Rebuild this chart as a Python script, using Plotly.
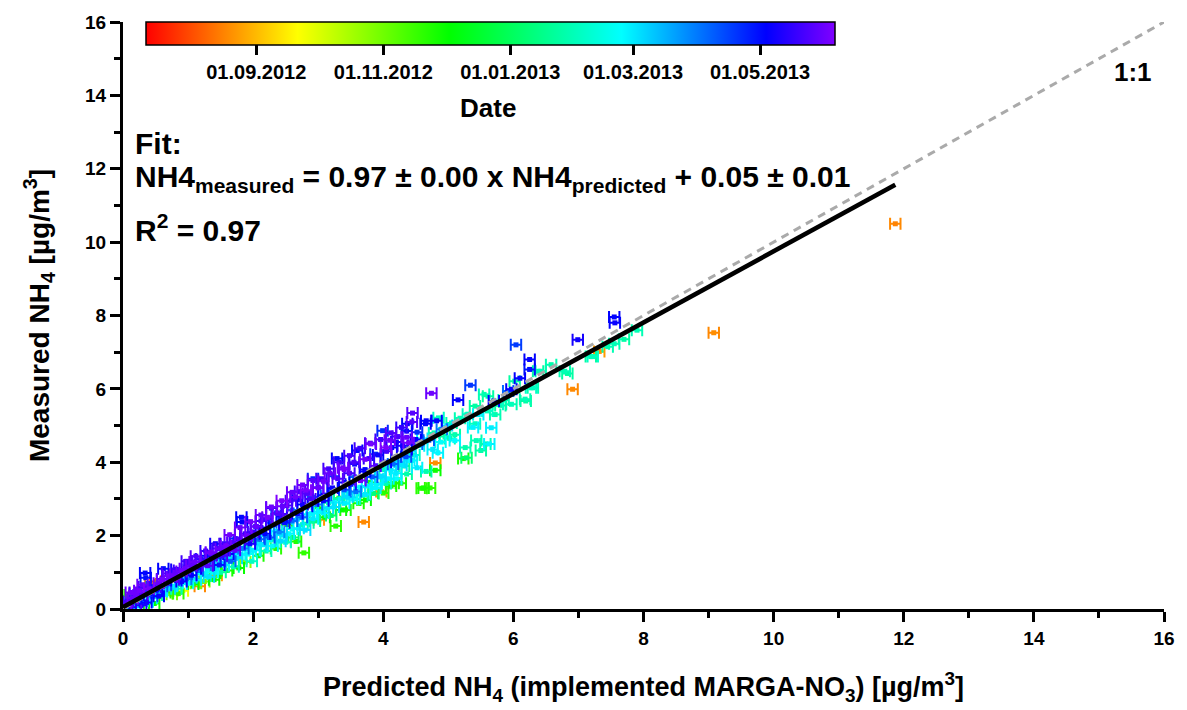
import numpy as np
import pandas as pd
import plotly.graph_objects as go
from plotly.colors import sample_colorscale

# ---------------- data ----------------
# segment 1: x 0 - 0.5
pred_s1 = [0.00, 0.00, 0.01, 0.02, 0.03, 0.05, 0.08, 0.10, 0.12, 0.15, 0.18, 0.20, 0.22, 0.25, 0.28,
           0.30, 0.32, 0.34, 0.35, 0.38, 0.40, 0.42, 0.45, 0.48, 0.50, 0.50]
meas_s1 = [0.05, 0.15, 0.25, 0.00, 0.32, 0.10, 0.20, 0.38, 0.05, 0.30, 0.45, -0.05, 0.25, 0.50, 0.10,
           0.40, 0.60, 0.98, 0.85, 0.20, 0.55, 0.68, 0.35, 0.15, 0.75, 0.60]
date_s1 = ["2013-02-26", "2013-02-24", "2013-03-02", "2013-02-08", "2012-11-26", "2013-06-01", "2013-05-22",
           "2012-11-22", "2013-05-04", "2013-05-30", "2013-05-18", "2013-05-24", "2013-04-06", "2013-06-02",
           "2013-05-07", "2013-05-26", "2013-05-20", "2013-05-03", "2013-05-01", "2013-03-01", "2013-06-04",
           "2012-08-17", "2013-04-12", "2012-12-03", "2012-07-16", "2013-05-17"]

# segment 2: x 0.5 - 1.0
pred_s2 = [0.55, 0.55, 0.58, 0.60, 0.62, 0.65, 0.66, 0.70, 0.72, 0.75, 0.78, 0.80, 0.82, 0.85, 0.86,
           0.90, 0.92, 0.95, 0.97, 1.00]
meas_s2 = [0.70, 0.35, 0.50, 0.82, 1.10, 0.45, 0.65, 0.90, 0.55, 0.40, 0.80, 0.95, 0.62, 0.42, 1.05,
           0.75, 0.50, 1.10, 0.82, 0.70]
date_s2 = ["2013-05-31", "2013-05-05", "2013-02-28", "2013-05-21", "2013-05-02", "2012-11-24", "2013-04-10",
           "2013-06-03", "2013-03-03", "2012-10-28", "2013-05-19", "2013-05-29", "2013-01-30", "2012-11-20",
           "2013-05-23", "2013-05-06", "2012-09-24", "2013-06-01", "2013-04-02", "2013-02-22"]

# segment 3: x 1.0 - 1.5
pred_s3 = [1.02, 1.05, 1.08, 1.10, 1.12, 1.15, 1.18, 1.20, 1.22, 1.25, 1.28, 1.30, 1.32, 1.35, 1.38,
           1.40, 1.42, 1.44, 1.46, 1.48, 1.50]
meas_s3 = [1.20, 0.92, 0.68, 1.28, 0.80, 1.05, 0.62, 1.35, 0.95, 0.75, 1.45, 1.18, 0.88, 1.55, 1.00,
           0.80, 1.38, 0.92, 1.65, 1.20, 1.00]
date_s3 = ["2013-05-20", "2013-05-04", "2012-11-28", "2013-05-31", "2013-02-25", "2013-04-05", "2012-08-19",
           "2013-05-16", "2013-02-02", "2012-10-30", "2013-05-03", "2013-05-25", "2013-03-02", "2013-06-03",
           "2013-02-20", "2012-11-30", "2013-04-15", "2012-08-23", "2013-05-22", "2013-04-29", "2013-01-27"]

# segment 4: x 1.5 - 2.0
pred_s4 = [1.52, 1.55, 1.58, 1.60, 1.62, 1.65, 1.68, 1.70, 1.72, 1.75, 1.78, 1.80, 1.82, 1.83, 1.85,
           1.88, 1.90, 1.92, 1.95, 1.98, 2.00]
meas_s4 = [1.45, 1.20, 1.72, 1.05, 1.50, 1.30, 1.82, 1.15, 1.60, 1.38, 1.12, 1.90, 2.50, 2.37, 1.65,
           1.28, 2.00, 1.50, 1.78, 1.30, 2.10]
date_s4 = ["2013-05-18", "2013-02-27", "2013-06-02", "2012-11-25", "2013-05-05", "2013-04-08", "2013-05-24",
           "2013-01-31", "2013-05-28", "2013-03-04", "2012-12-01", "2013-05-21", "2013-05-02", "2013-05-04",
           "2013-03-30", "2012-10-25", "2013-06-01", "2013-02-23", "2013-05-07", "2013-02-04", "2013-05-19"]

# segment 5: x 2.0 - 2.5
pred_s5 = [2.02, 2.05, 2.08, 2.10, 2.12, 2.15, 2.18, 2.20, 2.22, 2.25, 2.28, 2.30, 2.32, 2.35, 2.38,
           2.40, 2.42, 2.45, 2.48, 2.50, 2.50]
meas_s5 = [1.60, 2.25, 1.45, 1.90, 2.40, 1.75, 2.05, 1.58, 2.50, 1.95, 2.75, 1.72, 2.30, 1.65, 2.60,
           2.10, 1.85, 2.80, 2.35, 1.82, 2.55]
date_s5 = ["2013-02-26", "2013-05-30", "2012-11-27", "2013-04-06", "2013-05-23", "2013-03-01", "2013-05-03",
           "2013-01-29", "2013-06-03", "2013-04-11", "2013-05-17", "2013-02-21", "2013-05-06", "2012-11-21",
           "2013-05-25", "2013-03-28", "2013-03-05", "2013-05-29", "2013-05-01", "2013-02-06", "2013-05-20"]

# segment 6: x 2.5 - 3.0
pred_s6 = [2.55, 2.58, 2.60, 2.62, 2.65, 2.66, 2.68, 2.70, 2.72, 2.75, 2.78, 2.80, 2.81, 2.83, 2.85,
           2.88, 2.90, 2.92, 2.95, 2.98, 3.00]
meas_s6 = [2.05, 2.95, 2.40, 1.95, 3.05, 1.84, 2.60, 2.20, 3.20, 2.50, 1.53, 2.15, 3.24, 2.80, 2.35,
           3.00, 2.60, 3.50, 2.40, 2.85, 3.30]
date_s6 = ["2013-02-24", "2013-05-21", "2013-04-04", "2013-01-08", "2013-06-01", "2012-11-23", "2013-05-05",
           "2013-02-28", "2013-05-18", "2013-04-09", "2012-11-19", "2013-03-03", "2013-06-04", "2013-05-02",
           "2013-01-26", "2013-05-22", "2013-02-22", "2013-05-26", "2013-01-12", "2013-04-01", "2013-05-31"]

# segment 7: x 3.0 - 3.5
pred_s7 = [3.01, 3.02, 3.05, 3.08, 3.10, 3.12, 3.15, 3.18, 3.20, 3.22, 3.25, 3.27, 3.29, 3.30, 3.32,
           3.35, 3.38, 3.40, 3.42, 3.45, 3.48, 3.50]
meas_s7 = [2.43, 2.65, 3.55, 2.95, 2.50, 3.10, 2.75, 3.70, 2.55, 3.30, 2.90, 2.26, 4.10, 3.55, 3.00,
           2.70, 3.85, 3.25, 2.70, 3.05, 3.70, 3.40]
date_s7 = ["2012-08-21", "2013-02-25", "2013-05-19", "2013-05-04", "2012-11-29", "2013-04-07", "2013-03-02",
           "2013-05-30", "2013-01-06", "2013-05-06", "2013-02-27", "2012-11-22", "2013-05-03", "2013-05-24",
           "2013-02-01", "2012-12-02", "2013-06-02", "2013-04-13", "2012-11-26", "2013-03-04", "2013-05-20",
           "2013-05-01"]

# segment 8: x 3.5 - 4.0
pred_s8 = [3.52, 3.55, 3.58, 3.60, 3.62, 3.65, 3.68, 3.70, 3.72, 3.73, 3.75, 3.78, 3.81, 3.83, 3.85,
           3.88, 3.90, 3.92, 3.95, 3.97, 3.99, 4.00]
meas_s8 = [3.00, 4.00, 3.20, 4.32, 2.88, 3.50, 3.10, 2.37, 3.80, 2.97, 3.35, 4.10, 4.50, 3.60, 3.15,
           3.90, 3.40, 4.20, 3.60, 3.20, 4.86, 3.16]
date_s8 = ["2013-02-23", "2013-05-22", "2013-04-03", "2013-05-05", "2012-11-24", "2013-06-01", "2013-01-28",
           "2012-08-18", "2013-05-02", "2012-11-30", "2013-03-01", "2013-05-17", "2013-06-03", "2013-04-10",
           "2013-01-10", "2013-05-25", "2013-02-26", "2013-05-06", "2013-03-03", "2012-08-22", "2013-04-22",
           "2012-11-21"]

# segment 9: x 4.0 - 4.5
pred_s9 = [4.02, 4.05, 4.08, 4.10, 4.12, 4.13, 4.15, 4.16, 4.20, 4.22, 4.25, 4.27, 4.30, 4.32, 4.35,
           4.36, 4.37, 4.39, 4.40, 4.42, 4.45, 4.48, 4.50]
meas_s9 = [3.80, 4.30, 3.55, 4.60, 3.35, 4.40, 3.95, 3.43, 3.70, 4.70, 4.00, 3.43, 4.45, 3.90, 4.15,
           4.85, 5.05, 4.53, 4.05, 4.30, 5.34, 4.20, 4.62]
date_s9 = ["2013-01-31", "2013-05-21", "2013-02-25", "2013-05-31", "2012-11-27", "2013-05-03", "2013-04-05",
           "2012-11-23", "2013-02-28", "2013-05-23", "2013-03-02", "2012-11-25", "2013-05-07", "2013-01-25",
           "2013-04-14", "2013-05-01", "2013-05-05", "2013-06-02", "2013-02-24", "2013-03-05", "2013-05-26",
           "2013-02-03", "2013-05-04"]

# segment 10: x 4.5 - 5.0
pred_s10 = [4.55, 4.59, 4.62, 4.65, 4.66, 4.66, 4.70, 4.72, 4.74, 4.76, 4.78, 4.80, 4.80, 4.82, 4.84,
            4.85, 4.88, 4.90, 4.95, 4.98]
meas_s10 = [4.45, 3.29, 3.30, 5.05, 3.75, 5.13, 4.60, 3.30, 5.88, 4.35, 4.80, 3.98, 3.78, 5.13, 4.26,
            5.21, 4.55, 4.90, 4.70, 5.00]
date_s10 = ["2013-02-27", "2012-11-22", "2012-11-26", "2013-05-02", "2013-01-27", "2013-05-05", "2013-04-09",
            "2012-11-20", "2013-06-01", "2013-03-01", "2013-01-30", "2012-08-20", "2012-11-28", "2013-05-03",
            "2013-02-25", "2013-02-02", "2013-02-22", "2013-04-02", "2013-01-24", "2013-03-03"]

# segment 11: x 5.0 - 5.5
pred_s11 = [5.02, 5.05, 5.10, 5.10, 5.15, 5.18, 5.23, 5.26, 5.28, 5.30, 5.34, 5.38, 5.41, 5.41, 5.43,
            5.46, 5.50]
meas_s11 = [4.65, 5.07, 4.59, 4.75, 5.70, 5.20, 4.10, 4.40, 4.12, 5.31, 6.10, 4.95, 5.53, 5.05, 4.59,
            5.30, 4.32]
date_s11 = ["2013-01-29", "2013-02-01", "2013-02-24", "2013-01-26", "2013-05-04", "2013-01-31", "2012-11-24",
            "2013-01-28", "2013-01-07", "2013-02-03", "2013-04-20", "2013-02-26", "2013-01-25", "2013-02-04",
            "2013-01-30", "2013-03-01", "2013-01-27"]

# segment 12: x 5.5 - 6.0
pred_s12 = [5.55, 5.57, 5.60, 5.61, 5.63, 5.66, 5.70, 5.72, 5.76, 5.80, 5.85, 5.92, 5.97, 5.97]
meas_s12 = [5.85, 4.50, 5.40, 5.80, 4.50, 4.94, 5.67, 5.30, 5.58, 5.55, 5.70, 5.94, 5.99, 5.58]
date_s12 = ["2013-01-28", "2013-01-31", "2013-02-02", "2013-01-26", "2013-02-25", "2013-02-28", "2013-05-03",
            "2013-01-29", "2013-02-05", "2013-01-24", "2013-01-30", "2013-04-04", "2013-05-06", "2013-02-01"]

# segment 13: x > 6
pred_s13 = [6.02, 6.04, 6.10, 6.18, 6.19, 6.25, 6.25, 6.27, 6.30, 6.38, 6.42, 6.58, 6.79, 6.83, 6.91,
            6.99, 7.19, 7.22, 7.32, 7.45, 7.55, 7.55, 7.56, 7.70, 7.90, 9.08, 11.87]
meas_s13 = [6.21, 7.20, 6.29, 5.72, 5.67, 6.80, 6.53, 6.03, 6.03, 6.48, 6.48, 6.66, 6.48, 6.42, 5.99,
            7.34, 6.88, 6.88, 7.02, 7.15, 7.23, 7.96, 7.80, 7.35, 7.60, 7.53, 10.50]
date_s13 = ["2013-01-27", "2013-04-18", "2013-05-02", "2013-01-31", "2013-01-25", "2013-05-05", "2013-05-01",
            "2013-02-03", "2013-01-29", "2013-01-26", "2013-02-01", "2013-01-28", "2013-01-30", "2013-01-24",
            "2012-08-18", "2013-05-07", "2013-01-27", "2013-02-02", "2012-08-21", "2013-01-29", "2013-01-31",
            "2013-05-04", "2013-05-06", "2013-01-26", "2013-01-30", "2012-08-19", "2012-08-16"]

# segment 14: dense band, x 0 - 1.5
pred_s14 = [0.06, 0.06, 0.12, 0.12, 0.18, 0.18, 0.24, 0.24, 0.30, 0.30,
            0.36, 0.36, 0.44, 0.44, 0.52, 0.52, 0.60, 0.60, 0.60, 0.68,
            0.68, 0.75, 0.75, 0.82, 0.82, 0.82, 0.90, 0.90, 0.98, 0.98,
            0.98, 1.05, 1.05, 1.12, 1.12, 1.12, 1.20, 1.20, 1.27, 1.27,
            1.27, 1.35, 1.35, 1.42, 1.42, 1.42, 1.50, 1.50]
meas_s14 = [0.22, 0.00, 0.45, 0.18, 0.05, 0.42, 0.38, 0.12, 0.66, 0.22,
            0.45, 0.18, 0.60, 0.30, 0.52, 0.38, 0.80, 0.48, 0.62, 0.97,
            0.42, 0.88, 0.62, 1.08, 0.78, 0.55, 1.02, 0.68, 1.30, 0.95,
            0.72, 1.18, 0.85, 1.44, 1.10, 0.70, 1.36, 0.98, 1.58, 1.20,
            0.90, 1.52, 1.10, 1.78, 1.45, 0.98, 1.64, 1.25]
date_s14 = ["2013-05-21", "2013-02-25", "2013-06-01", "2013-04-07", "2013-03-02", "2013-05-19", "2013-05-04",
            "2012-11-29", "2013-05-30", "2013-02-27",
            "2013-04-11", "2013-05-06", "2013-04-16", "2013-02-24", "2013-05-02", "2013-01-29", "2013-06-03",
            "2013-03-01", "2013-04-04", "2013-05-18",
            "2012-10-27", "2013-05-31", "2013-02-26", "2013-05-08", "2013-05-03", "2013-02-01", "2013-06-02",
            "2013-02-28", "2013-05-20", "2013-04-09",
            "2012-11-24", "2013-05-29", "2013-03-03", "2013-05-24", "2013-05-05", "2012-10-31", "2013-04-20",
            "2013-02-23", "2013-05-17", "2013-04-02",
            "2013-01-27", "2013-06-01", "2013-02-27", "2013-05-07", "2013-05-01", "2012-11-27", "2013-05-30",
            "2013-03-04"]

# segment 15: dense band, x 1.5 - 3.0
pred_s15 = [1.56, 1.56, 1.64, 1.64, 1.64, 1.72, 1.72, 1.80, 1.80, 1.80,
            1.88, 1.88, 1.96, 1.96, 1.96, 2.04, 2.04, 2.12, 2.12, 2.12,
            2.20, 2.20, 2.28, 2.28, 2.28, 2.36, 2.36, 2.44, 2.44, 2.44,
            2.52, 2.52, 2.60, 2.60, 2.60, 2.68, 2.68, 2.76, 2.76, 2.76,
            2.84, 2.84, 2.92, 2.92, 2.92, 3.00, 3.00]
meas_s15 = [1.78, 1.40, 2.02, 1.68, 1.35, 1.92, 1.55, 2.22, 1.88, 1.48,
            2.05, 1.70, 2.38, 1.90, 1.60, 2.25, 1.85, 2.56, 2.22, 1.76,
            2.45, 1.98, 2.78, 2.35, 1.88, 2.62, 2.12, 2.95, 2.52, 2.02,
            2.82, 2.30, 3.18, 2.70, 2.18, 2.98, 2.45, 3.38, 2.85, 2.30,
            3.15, 2.58, 3.55, 3.05, 2.46, 3.32, 2.75]
date_s15 = ["2013-05-20", "2013-02-26", "2013-06-02", "2013-04-06", "2013-01-30", "2013-04-25", "2013-03-01",
            "2013-05-31", "2013-05-03", "2013-02-24",
            "2013-05-18", "2013-02-03", "2013-06-03", "2013-04-10", "2013-02-28", "2013-05-08", "2012-11-28",
            "2013-05-29", "2013-05-05", "2013-03-02",
            "2013-05-21", "2013-02-25", "2013-06-01", "2013-04-03", "2013-01-28", "2013-04-19", "2013-02-27",
            "2013-06-04", "2013-05-02", "2013-03-03",
            "2013-05-23", "2012-11-25", "2013-05-30", "2013-04-08", "2013-02-22", "2013-05-09", "2013-03-04",
            "2013-06-02", "2013-05-06", "2013-01-31",
            "2013-05-25", "2013-02-26", "2013-04-24", "2013-04-12", "2013-03-01", "2013-05-20", "2012-11-30"]

# segment 16: dense band, x 3.0 - 4.6
pred_s16 = [3.08, 3.08, 3.08, 3.16, 3.16, 3.24, 3.24, 3.24, 3.32, 3.32,
            3.40, 3.40, 3.40, 3.48, 3.48, 3.56, 3.56, 3.56, 3.64, 3.64,
            3.72, 3.72, 3.72, 3.80, 3.80, 3.88, 3.88, 3.88, 3.96, 3.96,
            4.04, 4.04, 4.04, 4.12, 4.12, 4.20, 4.20, 4.20, 4.28, 4.28,
            4.36, 4.36, 4.36, 4.44, 4.44, 4.52, 4.52, 4.52, 4.60]
meas_s16 = [3.48, 3.10, 2.62, 3.82, 2.90, 3.62, 3.25, 2.78, 4.00, 3.02,
            3.80, 3.45, 2.88, 4.18, 3.18, 3.95, 3.60, 3.00, 4.38, 3.32,
            4.08, 3.75, 3.12, 4.52, 3.45, 4.22, 3.90, 3.30, 4.62, 3.62,
            4.40, 4.00, 3.42, 4.80, 3.78, 4.55, 4.15, 3.55, 4.95, 3.92,
            4.68, 4.35, 3.68, 5.10, 4.05, 4.82, 4.50, 3.85, 4.65]
date_s16 = ["2013-06-01", "2013-05-04", "2013-02-25", "2013-05-21", "2013-01-29", "2013-04-23", "2013-04-05",
            "2013-03-02", "2013-05-19", "2012-11-26",
            "2013-06-03", "2013-05-02", "2013-02-27", "2013-05-23", "2013-03-03", "2013-05-08", "2013-04-09",
            "2013-02-02", "2013-05-18", "2013-02-24",
            "2013-06-02", "2013-05-06", "2013-03-01", "2013-05-22", "2012-11-23", "2013-04-18", "2013-04-01",
            "2013-02-26", "2013-05-20", "2013-03-04",
            "2013-06-04", "2013-05-03", "2013-01-30", "2013-05-24", "2013-02-28", "2013-05-09", "2013-04-13",
            "2013-02-23", "2013-05-17", "2013-03-02",
            "2013-05-30", "2013-05-05", "2013-01-27", "2013-05-25", "2013-02-25", "2013-04-21", "2013-04-07",
            "2013-03-01", "2013-02-27"]

# horizontal uncertainty of each point (µg/m3)
pred_err = 0.08

# fit result
fit_slope = 0.97
fit_intercept = 0.05

# colour bar range and ticks
date_start = "2012-07-10"
date_end = "2013-06-06"
cbar_tick_dates = ["2012-09-01", "2012-11-01", "2013-01-01", "2013-03-01", "2013-05-01"]
cbar_tick_text = ["01.09.2012", "01.11.2012", "01.01.2013", "01.03.2013", "01.05.2013"]

# ---------------- assemble ----------------
segments = [
    (pred_s1, meas_s1, date_s1), (pred_s2, meas_s2, date_s2), (pred_s3, meas_s3, date_s3),
    (pred_s4, meas_s4, date_s4), (pred_s5, meas_s5, date_s5), (pred_s6, meas_s6, date_s6),
    (pred_s7, meas_s7, date_s7), (pred_s8, meas_s8, date_s8), (pred_s9, meas_s9, date_s9),
    (pred_s10, meas_s10, date_s10), (pred_s11, meas_s11, date_s11), (pred_s12, meas_s12, date_s12),
    (pred_s13, meas_s13, date_s13), (pred_s14, meas_s14, date_s14), (pred_s15, meas_s15, date_s15),
    (pred_s16, meas_s16, date_s16),
]
pred, meas, dates = [], [], []
for p, m, d in segments:
    assert len(p) == len(m) == len(d), (len(p), len(m), len(d))
    pred += p
    meas += m
    dates += d

t0 = pd.Timestamp(date_start)
tmax = (pd.Timestamp(date_end) - t0).days
dnum = np.array([(pd.Timestamp(d) - t0).days for d in dates], dtype=float)
tickv = [(pd.Timestamp(d) - t0).days for d in cbar_tick_dates]

colorscale = [
    [0.00, "#ff0000"],
    [0.11, "#ff8000"],
    [0.22, "#ffff00"],
    [0.44, "#00ff00"],
    [0.69, "#00ffff"],
    [0.90, "#0000ff"],
    [1.00, "#8000ff"],
]

pred = np.array(pred)
meas = np.array(meas)
frac = dnum / tmax
nbins = 60
bins = np.clip(np.round(frac * nbins).astype(int), 0, nbins)

FONT = "Liberation Sans, Arial, sans-serif"
fig = go.Figure()

first = True
for b in sorted(set(bins)):
    idx = np.where(bins == b)[0]
    col = sample_colorscale(colorscale, [b / nbins])[0]
    marker = dict(
        color=dnum[idx], colorscale=colorscale, cmin=0, cmax=tmax,
        symbol="square", size=5, line=dict(width=0),
        showscale=first,
    )
    if first:
        marker["colorbar"] = dict(
            orientation="h", x=0.353, xanchor="center", y=1.0, yanchor="top",
            len=0.662, lenmode="fraction", thickness=23, thicknessmode="pixels",
            xpad=0, ypad=0, outlinecolor="black", outlinewidth=1.5,
            tickmode="array", tickvals=tickv, ticktext=cbar_tick_text,
            ticks="outside", ticklen=10, tickwidth=3, tickcolor="black",
            tickfont=dict(family=FONT, size=20, color="black", weight="bold"),
        )
    first = False
    fig.add_trace(go.Scatter(
        x=pred[idx], y=meas[idx], mode="markers", marker=marker,
        error_x=dict(type="constant", value=pred_err, color=col, thickness=2, width=6),
        cliponaxis=False, showlegend=False, hoverinfo="skip",
    ))

# 1:1 line
fig.add_trace(go.Scatter(
    x=[0, 16], y=[0, 16], mode="lines",
    line=dict(color="#aaaaaa", width=3, dash="8px,6px"),
    showlegend=False, hoverinfo="skip",
))
# fit line
fx = np.array([pred.min(), pred.max()])
fig.add_trace(go.Scatter(
    x=fx, y=fit_slope * fx + fit_intercept, mode="lines",
    line=dict(color="black", width=4.5), showlegend=False, hoverinfo="skip",
))

axis_common = dict(
    range=[0, 16], dtick=2, tick0=0, showgrid=False, zeroline=False,
    showline=True, linecolor="black", linewidth=3,
    ticks="outside", ticklen=10, tickwidth=3, tickcolor="black",
    tickfont=dict(family=FONT, size=19, color="black", weight="bold"),
    minor=dict(dtick=1, ticks="outside", ticklen=6, tickwidth=3, tickcolor="black"),
)

fig.update_layout(
    width=1187, height=710,
    margin=dict(l=123, r=18, t=17, b=100),
    paper_bgcolor="white", plot_bgcolor="white",
    font=dict(family=FONT, color="black"),
    showlegend=False,
    xaxis=dict(**axis_common,
               title=dict(text="<b>Predicted NH<sub>4</sub> (implemented MARGA-NO<sub>3</sub>) [µg/m<sup>3</sup>]</b>",
                          font=dict(family=FONT, size=27, color="black"), standoff=30)),
    yaxis=dict(**axis_common,
               title=dict(text="<b>Measured NH<sub>4</sub> [µg/m<sup>3</sup>]</b>",
                          font=dict(family=FONT, size=28, color="black"), standoff=28)),
    annotations=[
        dict(text="<b>Date</b>", xref="paper", yref="paper", x=0.351, y=0.853,
             xanchor="center", yanchor="middle", showarrow=False, font=dict(size=26)),
        dict(text="<b>Fit:</b>", xref="paper", yref="paper", x=0.0096, y=0.793,
             xanchor="left", yanchor="middle", showarrow=False, font=dict(size=30)),
        dict(text="<b>NH4<sub>measured</sub> = 0.97 ± 0.00 x NH4<sub>predicted</sub> + 0.05 ± 0.01</b>",
             xref="paper", yref="paper", x=0.0096, y=0.734,
             xanchor="left", yanchor="middle", showarrow=False, font=dict(size=30)),
        dict(text="<b>R<sup>2</sup> = 0.97</b>", xref="paper", yref="paper", x=0.0096, y=0.649,
             xanchor="left", yanchor="middle", showarrow=False, font=dict(size=30)),
        dict(text="<b>1:1</b>", xref="paper", yref="paper", x=0.99, y=0.914,
             xanchor="right", yanchor="middle", showarrow=False, font=dict(size=26)),
    ],
)

fig.write_html("out.html")
